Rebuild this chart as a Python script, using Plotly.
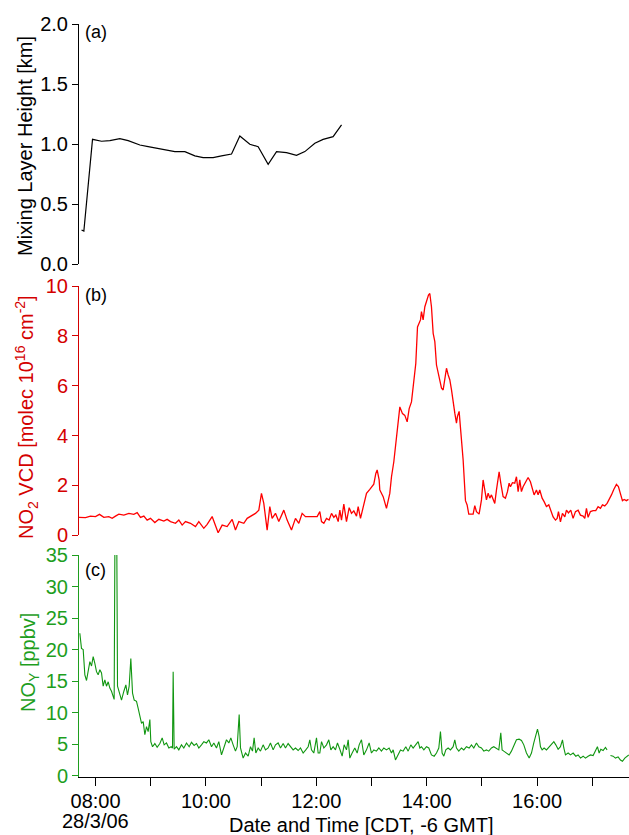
import pandas as pd
import plotly.graph_objects as go

# ---------------- data (times in decimal hours, 28 Mar 2006, CDT) ----------------
mlh_hours = [7.746, 7.788, 7.945, 8.108, 8.259, 8.440, 8.591, 8.803, 8.953, 9.105,
             9.286, 9.437, 9.618, 9.799, 9.949, 10.130, 10.282, 10.464, 10.614, 10.795,
             10.946, 11.127, 11.279, 11.460, 11.641, 11.792, 11.973, 12.123, 12.304, 12.457]
mlh_km = [0.286, 0.277, 1.040, 1.024, 1.029, 1.046, 1.029, 0.993, 0.979, 0.968,
          0.951, 0.938, 0.938, 0.902, 0.888, 0.888, 0.902, 0.918, 1.068, 0.999,
          0.979, 0.832, 0.938, 0.929, 0.907, 0.938, 1.007, 1.040, 1.062, 1.160]

no2_hours = [7.697, 7.818, 7.908, 7.999, 8.071, 8.150, 8.240, 8.301, 8.361, 8.422,
             8.512, 8.603, 8.693, 8.754, 8.814, 8.875, 8.935, 8.995, 9.074, 9.146,
             9.237, 9.297, 9.358, 9.448, 9.509, 9.569, 9.629, 9.720, 9.810, 9.871,
             9.961, 10.022, 10.112, 10.173, 10.221, 10.294, 10.384, 10.475, 10.535, 10.596,
             10.686, 10.747, 10.837, 10.897, 10.958, 11.006, 11.048, 11.109, 11.157, 11.199,
             11.260, 11.320, 11.411, 11.471, 11.550, 11.622, 11.683, 11.743, 11.803,
             12.015, 12.063, 12.094, 12.136, 12.184, 12.232, 12.275, 12.317, 12.353, 12.396,
             12.426, 12.456, 12.498, 12.546, 12.595, 12.637, 12.679, 12.728, 12.758, 12.800,
             12.848, 12.909, 12.969, 13.041, 13.078, 13.102, 13.138, 13.150, 13.211, 13.271,
             13.331, 13.362, 13.404, 13.452, 13.513, 13.561, 13.603, 13.646, 13.682, 13.724,
             13.766, 13.802, 13.833, 13.863, 13.887, 13.905, 13.935, 13.966, 13.996, 14.032,
             14.056, 14.086, 14.117, 14.147, 14.177, 14.207, 14.237, 14.268, 14.298, 14.328,
             14.358, 14.388, 14.418, 14.449, 14.479, 14.509, 14.539, 14.557, 14.587, 14.612,
             14.629, 14.660, 14.702, 14.732, 14.762, 14.841, 14.871, 14.901, 14.949, 14.992,
             15.022, 15.052, 15.082, 15.113, 15.143, 15.173, 15.203, 15.233, 15.264, 15.294,
             15.312, 15.342, 15.384, 15.426, 15.463, 15.493, 15.517, 15.553, 15.595, 15.626,
             15.656, 15.686, 15.716, 15.746, 15.795, 15.837, 15.879, 15.916, 15.946, 15.988,
             16.018, 16.048, 16.091, 16.127, 16.169, 16.212, 16.248, 16.290, 16.333, 16.363,
             16.387, 16.423, 16.459, 16.502, 16.532, 16.568, 16.610, 16.652, 16.695, 16.743,
             16.785, 16.834, 16.864, 16.894, 16.924, 16.966, 17.015, 17.063, 17.105, 17.148,
             17.184, 17.226, 17.268, 17.305, 17.347, 17.389, 17.437, 17.473, 17.510, 17.546,
             17.576, 17.618, 17.655]
no2_vcd = [0.72, 0.71, 0.77, 0.75, 0.84, 0.72, 0.75, 0.68, 0.77, 0.85,
           0.81, 0.88, 0.84, 0.91, 0.72, 0.77, 0.61, 0.68, 0.51, 0.64,
           0.57, 0.64, 0.55, 0.48, 0.61, 0.41, 0.55, 0.48, 0.35, 0.55,
           0.28, 0.44, 0.75, 0.41, 0.10, 0.41, 0.35, 0.64, 0.21, 0.55,
           0.48, 0.68, 0.81, 0.88, 1.01, 1.68, 1.28, 0.21, 1.15, 0.68,
           0.88, 0.55, 1.01, 0.61, 0.21, 0.68, 0.48, 0.88, 0.75,
           0.75, 0.95, 0.55, 0.48, 0.68, 0.61, 0.88, 0.72, 0.81, 0.55,
           1.01, 0.61, 1.25, 0.55, 1.11, 0.88, 0.98, 0.77, 1.15, 0.68,
           1.08, 1.68, 1.84, 2.05, 2.48, 2.62, 2.22, 1.82, 1.55, 1.08,
           1.68, 2.35, 2.95, 3.95, 5.15, 4.88, 4.81, 4.55, 5.08, 5.35,
           6.09, 6.89, 8.36, 8.50, 8.64, 8.97, 8.64, 9.17, 9.44, 9.64,
           9.70, 9.17, 8.10, 7.77, 6.83, 6.50, 6.30, 5.90, 5.83, 6.37,
           6.70, 6.44, 6.24, 5.83, 5.30, 4.90, 4.50, 4.77, 4.97, 4.37,
           3.82, 3.02, 1.39, 1.22, 0.85, 0.85, 1.19, 0.95, 0.85, 1.42,
           2.22, 1.82, 1.42, 1.69, 1.49, 1.62, 1.42, 1.28, 1.82, 2.35,
           2.55, 2.09, 1.55, 1.49, 1.75, 2.09, 1.95, 2.11, 2.09, 2.35,
           1.75, 2.22, 1.75, 1.95, 2.15, 2.32, 2.15, 1.89, 1.62, 1.82,
           1.62, 1.82, 1.49, 1.35, 1.15, 1.22, 1.01, 0.74, 0.61, 0.68,
           0.95, 0.54, 0.88, 0.74, 1.01, 0.90, 1.01, 0.68, 0.95, 1.01,
           0.81, 0.77, 0.68, 1.08, 0.72, 0.95, 0.99, 0.99, 1.15, 1.08,
           1.22, 1.18, 1.28, 1.42, 1.62, 1.84, 2.04, 1.95, 1.62, 1.39,
           1.44, 1.39, 1.44]

noy_hours = [7.715, 7.745, 7.776, 7.806, 7.836, 7.866, 7.897, 7.927, 7.957, 7.987,
             8.017, 8.047, 8.078, 8.108, 8.138, 8.168, 8.198, 8.229, 8.259, 8.289,
             8.319, 8.337, 8.355, 8.380, 8.398, 8.428, 8.470, 8.513, 8.549, 8.579,
             8.609, 8.639, 8.670, 8.700, 8.742, 8.772, 8.802, 8.833, 8.863, 8.893,
             8.923, 8.953, 8.984, 9.001, 9.032, 9.074, 9.116, 9.165, 9.207, 9.243,
             9.285, 9.328, 9.370, 9.394, 9.406, 9.424, 9.466, 9.509, 9.557, 9.599,
             9.648, 9.696, 9.738, 9.786, 9.829, 9.871, 9.919, 9.962, 10.010, 10.052,
             10.101, 10.143, 10.191, 10.233, 10.282, 10.324, 10.372, 10.415, 10.451, 10.493,
             10.535, 10.566, 10.602, 10.626, 10.674, 10.717, 10.765, 10.807, 10.843, 10.873,
             10.904, 10.946, 10.988, 11.036, 11.079, 11.127, 11.169, 11.218, 11.260, 11.308,
             11.351, 11.399, 11.441, 11.489, 11.532, 11.580, 11.622, 11.671, 11.713, 11.761,
             11.809, 11.852, 11.882, 11.912, 11.954, 12.003, 12.033,
             12.063, 12.094, 12.136, 12.184, 12.226, 12.263, 12.305, 12.347, 12.383, 12.426,
             12.468, 12.504, 12.546, 12.577, 12.607, 12.649, 12.697, 12.740, 12.776, 12.818,
             12.860, 12.909, 12.957, 12.999, 13.042, 13.090, 13.132, 13.180, 13.223, 13.271,
             13.319, 13.362, 13.392, 13.434, 13.482, 13.525, 13.573, 13.621, 13.664, 13.712,
             13.754, 13.803, 13.845, 13.875, 13.905, 13.948, 13.996, 14.038, 14.086, 14.135,
             14.177, 14.219, 14.249, 14.279, 14.310, 14.346, 14.388, 14.430, 14.479, 14.509,
             14.539, 14.581, 14.630, 14.672, 14.720, 14.769, 14.811, 14.853, 14.901, 14.944,
             14.992, 15.034, 15.082, 15.124, 15.173, 15.215, 15.263, 15.306, 15.342, 15.366,
             15.396, 15.445, 15.493, 15.535, 15.578, 15.626, 15.674, 15.717, 15.759, 15.807,
             15.856, 15.898, 15.940, 15.976, 16.007, 16.037, 16.061, 16.091, 16.127, 16.170,
             16.218, 16.260, 16.303, 16.339, 16.381, 16.423, 16.460, 16.484, 16.514, 16.562,
             16.605, 16.653, 16.701, 16.743, 16.786, 16.834, 16.876, 16.924, 16.967, 17.015,
             17.063, 17.093, 17.124, 17.154, 17.196, 17.238, 17.268,
             17.300,
             17.329, 17.377, 17.420, 17.468, 17.510, 17.546, 17.589, 17.631, 17.661]
noy_ppbv = [22.6, 20.2, 20.0, 16.0, 15.1, 16.8, 18.1, 17.4, 18.9, 17.8,
            16.5, 16.0, 16.8, 16.3, 14.2, 15.2, 14.2, 14.9, 13.9, 13.4,
            12.3, 12.1, 45.0, 45.0, 14.2, 13.1, 12.0, 13.4, 14.4, 12.8,
            14.2, 18.6, 13.1, 12.0, 11.8, 10.7, 9.4, 8.3, 8.6, 6.5,
            7.8, 7.0, 8.9, 5.4, 4.6, 5.1, 4.5, 5.1, 6.0, 4.9,
            5.2, 4.4, 4.6, 4.4, 16.5, 4.2, 4.6, 4.1, 4.9, 4.4,
            5.2, 4.6, 5.3, 4.8, 5.1, 4.4, 4.9, 5.4, 5.2, 5.7,
            4.6, 5.2, 4.4, 5.4, 3.3, 4.6, 5.7, 5.2, 6.0, 4.9,
            3.9, 4.6, 9.7, 4.4, 2.8, 3.6, 3.1, 4.6, 3.9, 6.0,
            3.6, 4.4, 3.9, 4.9, 4.1, 4.4, 5.2, 4.1, 4.9, 5.2,
            4.4, 5.1, 4.4, 5.1, 4.6, 4.1, 4.4, 4.0, 4.4, 3.6,
            4.1, 4.6, 5.7, 4.1, 3.6, 6.0, 3.6,
            3.6, 5.4, 4.4, 4.9, 5.7, 4.1, 4.6, 4.1, 5.2, 4.2,
            3.1, 4.9, 4.1, 5.7, 2.8, 3.6, 4.4, 3.6, 4.9, 5.7,
            3.3, 4.1, 5.2, 3.6, 4.1, 3.9, 4.4, 3.9, 4.4, 4.1,
            4.4, 3.6, 4.1, 2.5, 3.3, 4.1, 3.9, 4.6, 3.9, 4.9,
            4.4, 4.9, 5.4, 4.4, 4.6, 4.1, 4.6, 4.4, 3.3, 3.1,
            3.6, 4.4, 7.0, 3.6, 3.1, 4.1, 4.4, 4.1, 4.6, 5.7,
            4.4, 3.9, 4.4, 4.1, 4.6, 4.4, 4.9, 4.4, 5.2, 4.6,
            4.4, 3.9, 4.1, 3.9, 4.4, 4.6, 4.4, 4.1, 6.8, 4.1,
            3.9, 3.6, 3.3, 3.9, 4.9, 5.7, 5.8, 5.6, 4.9, 3.6,
            2.8, 3.6, 5.2, 6.5, 7.4, 6.2, 4.6, 4.1, 4.4, 4.1,
            4.6, 5.1, 5.4, 4.9, 4.2, 4.6, 5.7, 4.4, 3.3, 3.6,
            3.3, 3.6, 3.1, 3.3, 2.8, 3.1, 2.8, 3.1, 3.3, 3.2,
            4.1, 4.6, 3.6, 4.2, 4.0, 4.5, 4.1,
            None,
            3.2, 3.1, 2.8, 3.0, 2.5, 2.3, 2.8, 3.1, 3.3]

tick_hours = [8, 10, 12, 14, 16]
tick_labels = ["08:00", "10:00", "12:00", "14:00", "16:00"]
date_label = "28/3/06"

# ---------------- helpers ----------------
DAY = pd.Timestamp("2006-03-28")


def to_time(hours):
    return [DAY + pd.Timedelta(hours=h) for h in hours]


FONT = "Arial, 'Liberation Sans', sans-serif"
RED_LINE = "#FF0000"
RED_AX = "#D40000"
GREEN_LINE = "#109610"
GREEN_AX = "#1E9E1E"

fig = go.Figure()
fig.add_trace(go.Scatter(x=to_time(mlh_hours), y=mlh_km, mode="lines",
                         line=dict(color="black", width=1.2), yaxis="y3", xaxis="x"))
fig.add_trace(go.Scatter(x=to_time(no2_hours), y=no2_vcd, mode="lines",
                         line=dict(color=RED_LINE, width=1.3), yaxis="y2", xaxis="x"))
fig.add_trace(go.Scatter(x=to_time(noy_hours), y=noy_ppbv, mode="lines",
                         line=dict(color=GREEN_LINE, width=1.1), yaxis="y", xaxis="x",
                         connectgaps=False))

H0 = 24      # top margin px
H_BOT = 777  # plot bottom px
PH = H_BOT - H0
PW = 629 - 79


def py(px):
    return (H_BOT - px) / PH


def px_x(px):
    return (px - 79) / PW


def yax(color, **kw):
    d = dict(showline=True, linewidth=1, ticks="outside", ticklen=6, tickwidth=1,
             showgrid=False, zeroline=False, linecolor=color, tickcolor=color,
             tickfont=dict(family=FONT, size=20, color=color))
    d.update(kw)
    return d


fig.update_layout(
    width=629, height=835,
    margin=dict(l=79, r=0, t=H0, b=835 - H_BOT),
    plot_bgcolor="white", paper_bgcolor="white",
    showlegend=False,
    font=dict(family=FONT, size=20, color="black"),
    xaxis=dict(
        anchor="y",
        range=[DAY + pd.Timedelta(hours=7.70), DAY + pd.Timedelta(hours=17.665)],
        tickvals=to_time(tick_hours), ticktext=tick_labels,
        showline=True, linecolor="black", linewidth=1,
        ticks="outside", ticklen=8, tickcolor="black",
        ticklabelstandoff=-2,
        minor=dict(tick0=DAY + pd.Timedelta(hours=8), dtick=3600000, ticks="outside",
                   ticklen=8, tickcolor="black", showgrid=False),
        showgrid=False, zeroline=False,
        tickfont=dict(family=FONT, size=20, color="black"),
    ),
    yaxis=yax(GREEN_AX, domain=[0, py(555)], range=[-0.2, 35],
              tickvals=[0, 5, 10, 15, 20, 25, 30, 35]),
    yaxis2=yax(RED_AX, domain=[py(535.3), py(286)], range=[0, 10],
               tickvals=[0, 2, 4, 6, 8, 10], anchor="x"),
    yaxis3=yax("black", domain=[py(264.3), 1], range=[0, 2],
               tickvals=[0, 0.5, 1.0, 1.5, 2.0], tickformat=".1f", anchor="x"),
)

ann = []
# panel labels
for lab, ypx in [("(a)", 32), ("(b)", 295), ("(c)", 570)]:
    ann.append(dict(text=lab, xref="paper", yref="paper", x=px_x(83), y=py(ypx),
                    xanchor="left", yanchor="middle", showarrow=False,
                    font=dict(family=FONT, size=18, color="black")))
# y titles
ann.append(dict(text="Mixing Layer Height [km]", xref="paper", yref="paper",
                x=px_x(25), y=py(146), textangle=-90, xanchor="center", yanchor="middle",
                showarrow=False, font=dict(family=FONT, size=20, color="black")))
ann.append(dict(text="NO<sub>2</sub> VCD [molec 10<sup>16</sup> cm<sup>-2</sup>]",
                xref="paper", yref="paper",
                x=px_x(26), y=py(417), textangle=-90, xanchor="center", yanchor="middle",
                showarrow=False, font=dict(family=FONT, size=20, color=RED_AX)))
ann.append(dict(text="NO<sub>Y</sub> [ppbv]", xref="paper", yref="paper",
                x=px_x(29), y=py(663), textangle=-90, xanchor="center", yanchor="middle",
                showarrow=False, font=dict(family=FONT, size=20, color=GREEN_AX)))
# date below 08:00 tick and x title
ann.append(dict(text=date_label, xref="x", yref="paper", x=to_time([8])[0], y=py(821),
                xanchor="center", yanchor="middle", showarrow=False,
                font=dict(family=FONT, size=20, color="black")))
ann.append(dict(text="Date and Time [CDT, -6 GMT]", xref="paper", yref="paper",
                x=px_x(361.5), y=py(825), xanchor="center", yanchor="middle",
                showarrow=False, font=dict(family=FONT, size=20, color="black")))
fig.update_layout(annotations=ann)

fig.write_html("out.html",
               config={"displayModeBar": False},
               post_script="document.body.style.margin='0';document.body.style.overflow='hidden';")
